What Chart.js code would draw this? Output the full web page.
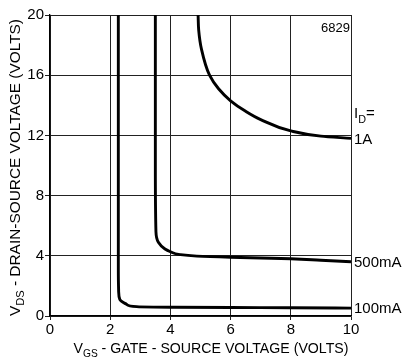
<!DOCTYPE html>
<html>
<head>
<meta charset="utf-8">
<script src="https://cdn.jsdelivr.net/npm/chart.js@4/dist/chart.umd.min.js"></script>
<style>
  html, body { margin: 0; padding: 0; background: #fff; }
  #wrap { width: 403px; height: 359px; }
</style>
</head>
<body>
<div id="wrap"><canvas id="c" width="403" height="359"></canvas></div>
<script>
// Drain current curves: V_DS versus V_GS for three drain currents
const seriesLabels = ['100mA', '500mA', '1A'];

const vgs100 = [2.27, 2.27, 2.27, 2.28, 2.32, 2.54, 2.88, 3.43, 4, 6, 8, 10];
const vds100 = [20, 10, 3, 1.67, 1.1, 0.78, 0.62, 0.59, 0.58, 0.56, 0.55, 0.52];

const vgs500 = [3.5, 3.5, 3.52, 3.6, 3.82, 4.0, 4.32, 4.88, 6, 7, 8, 9, 10];
const vds500 = [20, 10, 5.6, 4.9, 4.45, 4.27, 4.08, 3.98, 3.9, 3.85, 3.8, 3.7, 3.6];

const vgs1A = [4.92, 4.94, 5.03, 5.3, 5.6, 6, 6.5, 7, 8, 9, 10];
const vds1A = [20, 19, 17.75, 16, 15.1, 14.3, 13.6, 13.05, 12.3, 11.95, 11.8];

const xTicks = [0, 2, 4, 6, 8, 10];
const yTicks = [0, 4, 8, 12, 16, 20];

const INK = '#000';
const FONT = '"Liberation Sans", Arial, sans-serif';

function toPoints(xs, ys) {
  return xs.map((x, i) => ({ x: x, y: ys[i] }));
}

// Draws a run of text pieces (some subscripted), squeezed to a given width
function drawRich(ctx, parts, x, y, size, width, align) {
  ctx.save();
  let total = 0;
  parts.forEach(p => {
    ctx.font = (p.sub ? size * 0.72 : size) + 'px ' + FONT;
    total += ctx.measureText(p.text).width;
  });
  const sx = width ? width / total : 1;
  const drawn = total * sx;
  const cx = align === 'center' ? x - drawn / 2 : x;
  ctx.translate(cx, y);
  ctx.scale(sx, 1);
  let pos = 0;
  ctx.textBaseline = 'alphabetic';
  ctx.textAlign = 'left';
  ctx.fillStyle = INK;
  parts.forEach(p => {
    ctx.font = (p.sub ? size * 0.72 : size) + 'px ' + FONT;
    ctx.fillText(p.text, pos, p.sub ? size * 0.28 : 0);
    pos += ctx.measureText(p.text).width;
  });
  ctx.restore();
}

const whiteBg = {
  id: 'whiteBg',
  beforeDraw(chart) {
    const ctx = chart.ctx;
    ctx.save();
    ctx.fillStyle = '#fff';
    ctx.fillRect(0, 0, chart.width, chart.height);
    ctx.restore();
  }
};

const annotations = {
  id: 'annotations',
  afterDraw(chart) {
    const ctx = chart.ctx;
    const xs = chart.scales.x, ys = chart.scales.y;
    const area = chart.chartArea;

    // axis titles
    drawRich(ctx, [{ text: 'V' }, { text: 'GS', sub: true }, { text: ' - GATE - SOURCE VOLTAGE (VOLTS)' }],
      211, 353, 15, 275, 'center');
    ctx.save();
    ctx.translate(20, (area.top + area.bottom) / 2 + 2);
    ctx.rotate(-Math.PI / 2);
    drawRich(ctx, [{ text: 'V' }, { text: 'DS', sub: true }, { text: ' - DRAIN-SOURCE VOLTAGE (VOLTS)' }],
      0, 0, 15, 297, 'center');
    ctx.restore();

    // figure number
    ctx.save();
    ctx.fillStyle = INK;
    ctx.font = '13px ' + FONT;
    ctx.textAlign = 'right';
    ctx.textBaseline = 'middle';
    ctx.fillText('6829', area.right - 1, ys.getPixelForValue(19.1));
    ctx.restore();

    // legend heading and curve labels at the end of each curve
    drawRich(ctx, [{ text: 'I' }, { text: 'D', sub: true }, { text: '=' }],
      area.right + 3, ys.getPixelForValue(13.13), 15, 0, 'left');

    ctx.save();
    ctx.fillStyle = INK;
    ctx.font = '15px ' + FONT;
    ctx.textAlign = 'left';
    ctx.textBaseline = 'middle';
    chart.data.datasets.forEach(ds => {
      const last = ds.data[ds.data.length - 1];
      ctx.fillText(ds.label, xs.getPixelForValue(last.x) + 3, ys.getPixelForValue(last.y) + 1);
    });
    ctx.restore();
  }
};

const curveStyle = {
  borderColor: INK,
  borderWidth: 2.9,
  pointRadius: 0,
  fill: false,
  cubicInterpolationMode: 'monotone',
  borderCapStyle: 'butt',
  borderJoinStyle: 'round'
};

new Chart(document.getElementById('c'), {
  type: 'line',
  data: {
    datasets: [
      Object.assign({ label: seriesLabels[0], data: toPoints(vgs100, vds100) }, curveStyle),
      Object.assign({ label: seriesLabels[1], data: toPoints(vgs500, vds500) }, curveStyle),
      Object.assign({ label: seriesLabels[2], data: toPoints(vgs1A, vds1A) }, curveStyle)
    ]
  },
  options: {
    indexAxis: 'y',
    responsive: false,
    animation: false,
    layout: { padding: { left: 0, top: 15, right: 52, bottom: 0 } },
    plugins: { legend: { display: false }, tooltip: { enabled: false } },
    scales: {
      x: {
        type: 'linear',
        position: 'bottom',
        min: 0, max: 10,
        afterBuildTicks(s) { s.ticks = xTicks.map(v => ({ value: v })); },
        afterFit(s) { s.height = 43; },
        ticks: { color: INK, font: { size: 15, family: FONT }, padding: 1, maxRotation: 0 },
        grid: { color: '#222', lineWidth: 1, tickLength: 4, tickColor: '#222' },
        border: { color: INK, width: 1.3 }
      },
      y: {
        type: 'linear',
        position: 'left',
        min: 0, max: 20,
        afterBuildTicks(s) { s.ticks = yTicks.map(v => ({ value: v })); },
        afterFit(s) { s.width = 50; },
        ticks: { color: INK, font: { size: 15, family: FONT }, padding: 1 },
        grid: { color: '#222', lineWidth: 1, tickLength: 5, tickColor: '#222' },
        border: { color: INK, width: 1.3 }
      }
    }
  },
  plugins: [whiteBg, annotations]
});
</script>
</body>
</html>
